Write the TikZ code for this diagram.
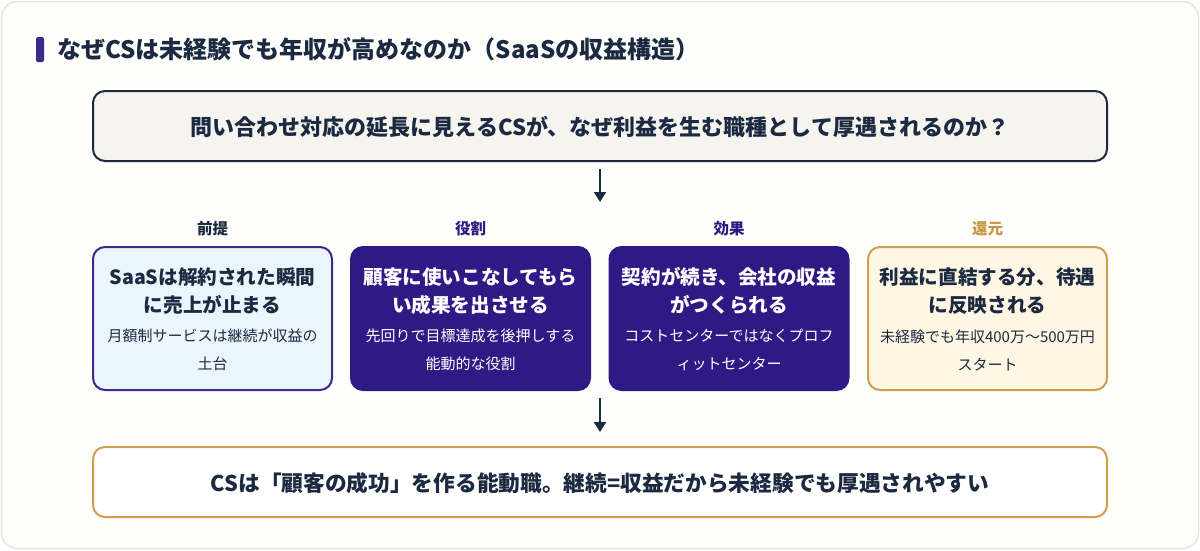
\documentclass[tikz,border=0pt]{standalone}
\usepackage{fontspec}
\setmainfont{Noto Sans CJK JP}
\usetikzlibrary{arrows.meta}
\definecolor{navy}{HTML}{1B2A41}
\definecolor{indigo}{HTML}{2F1A85}
\definecolor{purp}{HTML}{3B2A8C}
\definecolor{gold}{HTML}{CFA04C}
\definecolor{goldtxt}{HTML}{C8963E}
\definecolor{qfill}{HTML}{F5F4EF}
\definecolor{bluefill}{HTML}{EAF6FC}
\definecolor{creamfill}{HTML}{FFF6E4}
\definecolor{outerline}{HTML}{E6E4DE}
\definecolor{outerfill}{HTML}{FEFEFC}
\begin{document}
\begin{tikzpicture}[x=1pt,y=-1pt,
  card/.style={rounded corners=12pt, line width=2pt, minimum width=239pt, minimum height=143pt, inner sep=0pt},
  wide/.style={rounded corners=12pt, line width=2pt, minimum width=1014pt, minimum height=70pt, inner sep=0pt},
  lab/.style={font=\fontsize{15.5}{17}\selectfont\bfseries},
  maintxt/.style={align=center, font=\fontsize{19.6}{28}\selectfont\bfseries},
  subtxt/.style={align=center, font=\fontsize{15}{28}\selectfont},
  arr/.style={line width=2pt, draw=navy, -{Triangle[length=10pt,width=12pt]}}
]
\useasboundingbox (0,0) rectangle (1200,550);
\draw[draw=outerline, fill=outerfill, line width=1.5pt, rounded corners=16pt] (1.5,1.5) rectangle (1198.5,548.5);
% title
\fill[purp, rounded corners=1.5pt] (36,37) rectangle (44,62);
\node[anchor=west, text=navy, font=\fontsize{24}{26}\selectfont\bfseries, inner sep=0pt] (title) at (57,49.5) {なぜCSは未経験でも年収が高めなのか（SaaSの収益構造）};
% top question
\node[wide, draw=navy, fill=qfill] (q) at (600,126) {};
\node[text=navy, font=\fontsize{22}{24}\selectfont\bfseries] (qt) at (600,127) {問い合わせ対応の延長に見えるCSが、なぜ利益を生む職種として厚遇されるのか？};
\coordinate (a1s) at (600,169);
\coordinate (a1e) at (600,202);
\draw[arr] (a1s) -- (a1e);
% labels
\node[lab, text=navy] (l1) at (212.5,229) {前提};
\node[lab, text=indigo] (l2) at (470.5,229) {役割};
\node[lab, text=indigo] (l3) at (729,229) {効果};
\node[lab, text=goldtxt] (l4) at (987.5,229) {還元};
% cards
\node[card, draw=purp, fill=bluefill] (c1) at (212.5,318.5) {};
\node[card, draw=indigo, fill=indigo] (c2) at (470.5,318.5) {};
\node[card, draw=indigo, fill=indigo] (c3) at (729,318.5) {};
\node[card, draw=gold, fill=creamfill] (c4) at (987.5,318.5) {};
\node[maintxt, text=navy] (m1) at (212.5,291) {SaaSは解約された瞬間\\に売上が止まる};
\node[subtxt, text=navy] (s1) at (212.5,350) {月額制サービスは継続が収益の\\土台};
\node[maintxt, text=white] (m2) at (470.5,291) {顧客に使いこなしてもら\\い成果を出させる};
\node[subtxt, text=white] (s2) at (470.5,350) {先回りで目標達成を後押しする\\能動的な役割};
\node[maintxt, text=white] (m3) at (729,291) {契約が続き、会社の収益\\がつくられる};
\node[subtxt, text=white] (s3) at (729,350) {コストセンターではなくプロフ\\ィットセンター};
\node[maintxt, text=navy] (m4) at (987.5,291) {利益に直結する分、待遇\\に反映される};
\node[subtxt, text=navy] (s4) at (987.5,350) {未経験でも年収400万〜500万円\\スタート};
\coordinate (a2s) at (600,398);
\coordinate (a2e) at (600,432);
\draw[arr] (a2s) -- (a2e);
% bottom
\node[wide, draw=gold, fill=white] (b) at (600,482) {};
\node[text=navy, font=\fontsize{21.7}{24}\selectfont\bfseries] (bt) at (600,483) {CSは「顧客の成功」を作る能動職。継続=収益だから未経験でも厚遇されやすい};
\end{tikzpicture}
\end{document}
